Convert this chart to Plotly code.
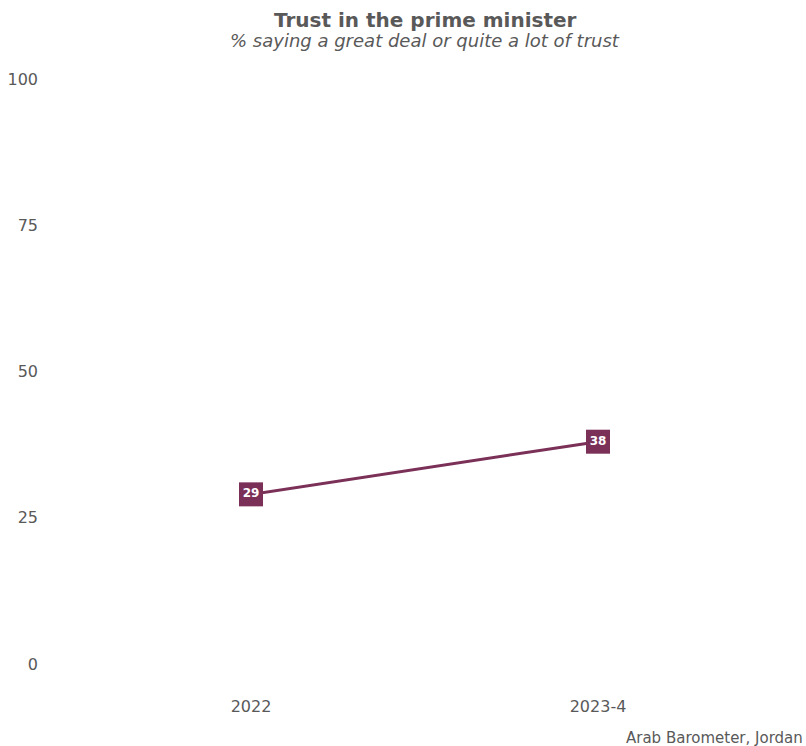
import plotly.graph_objects as go

waves = ["2022", "2023-4"]
trust = [29, 38]
y_ticks = [0, 25, 50, 75, 100]

LINE_COLOR = "#7b3058"
TEXT_GRAY = "#595959"
FONT = "DejaVu Sans"

# plot area geometry (pixels)
L, R, T, B = 39, 8, 60, 51
PW = 806 - L - R
PH = 746 - T - B

fig = go.Figure()
fig.add_trace(go.Scatter(
    x=waves,
    y=trust,
    mode="lines+markers+text",
    line=dict(color=LINE_COLOR, width=3),
    marker=dict(symbol="square", size=24, color=LINE_COLOR),
    text=[str(v) for v in trust],
    textposition="middle center",
    textfont=dict(family=FONT, size=12, color="white", weight="bold"),
    hoverinfo="skip",
    cliponaxis=False,
))

fig.update_layout(
    width=806,
    height=746,
    margin=dict(l=L, r=R, t=T, b=B),
    paper_bgcolor="white",
    plot_bgcolor="white",
    showlegend=False,
    font=dict(family=FONT, color=TEXT_GRAY),
    xaxis=dict(
        type="category",
        range=[-(251 - L) / 347, 1 + (806 - R - 598) / 347],
        showgrid=False, zeroline=False, showline=False,
        tickfont=dict(family=FONT, size=16, color=TEXT_GRAY),
    ),
    yaxis=dict(
        range=[-5.3, 103.25],
        tickvals=y_ticks,
        showgrid=False, zeroline=False, showline=False,
        tickfont=dict(family=FONT, size=16, color=TEXT_GRAY),
    ),
    annotations=[
        dict(
            text="<b>Trust in the prime minister</b>",
            xref="paper", yref="paper", x=(425 - L) / PW, y=1.0 + (T - 20) / PH,
            xanchor="center", yanchor="middle", showarrow=False,
            font=dict(family=FONT, size=20, color=TEXT_GRAY),
        ),
        dict(
            text="<i>% saying a great deal or quite a lot of trust</i>",
            xref="paper", yref="paper", x=(425 - L) / PW, y=1.0 + (T - 40) / PH,
            xanchor="center", yanchor="middle", showarrow=False,
            font=dict(family=FONT, size=18, color=TEXT_GRAY),
        ),
        dict(
            text="Arab Barometer, Jordan",
            xref="paper", yref="paper", x=1.0 + (R - 1) / PW, y=-(738 - (746 - B)) / PH,
            xanchor="right", yanchor="middle", showarrow=False,
            font=dict(family=FONT, size=15, color=TEXT_GRAY),
        ),
    ],
)

fig.write_html("out.html")
